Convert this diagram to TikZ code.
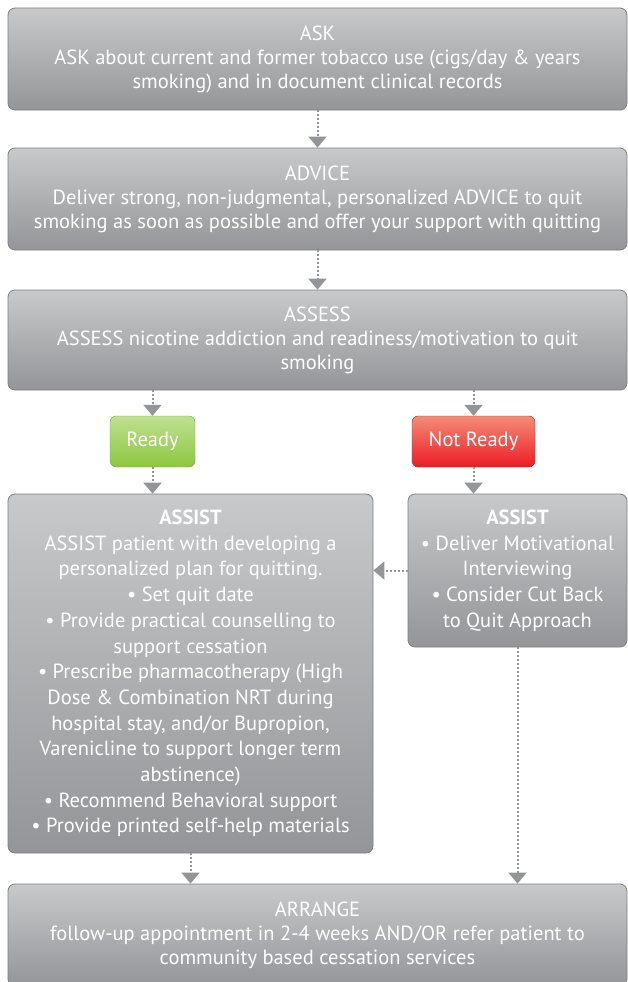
\documentclass[tikz,border=0pt]{standalone}
\usepackage{fontspec}
\setmainfont{PT Sans}
\usepackage{tikz}
\usetikzlibrary{arrows.meta}

\definecolor{boxgray}{RGB}{147,149,152}
\definecolor{boxlight}{RGB}{200,201,203}
\definecolor{readygreen}{RGB}{141,198,63}
\definecolor{readylight}{RGB}{190,225,145}
\definecolor{notred}{RGB}{237,28,36}
\definecolor{notlight}{RGB}{244,140,120}

\begin{document}
\begin{tikzpicture}
[
    x = 1pt, y = -1pt,
    stage/.style = {rectangle, rounded corners = 7pt, draw = boxgray!85!black, line width = 0.8pt,
                    top color = boxlight, middle color = boxgray, bottom color = boxgray,
                    text = white, align = center, inner sep = 0pt,
                    font = \fontsize{20.5}{24}\selectfont},
    assist/.style = {stage, font = \fontsize{20.5}{25.7}\selectfont},
    answer/.style = {rectangle, rounded corners = 6pt, minimum height = 51pt, inner sep = 0pt,
                     text = white, font = \fontsize{20.5}{22}\selectfont},
    flow/.style = {boxgray, line width = 2pt, dash pattern = on 2pt off 2pt,
                   -{Triangle[width = 18pt, length = 11pt]}},
]
\useasboundingbox (0,0) rectangle (628,982);

% main steps
\node[stage, minimum width = 619pt, minimum height = 102pt] (ask) at (317.5,59)
    {ASK\\ASK about current and former tobacco use (cigs/day \& years\\smoking) and in document clinical records};
\node[stage, minimum width = 619pt, minimum height = 102pt] (advice) at (317.5,199)
    {ADVICE\\Deliver strong, non-judgmental, personalized ADVICE to quit\\smoking as soon as possible and offer your support with quitting};
\node[stage, minimum width = 619pt, minimum height = 100pt] (assess) at (317.5,340)
    {ASSESS\\ASSESS nicotine addiction and readiness/motivation to quit\\smoking};

% readiness
\node[answer, minimum width = 85pt, top color = readylight, middle color = readygreen,
      bottom color = readygreen, draw = readygreen!85!black] (ready) at (152.5,441.5) {Ready};
\node[answer, minimum width = 123pt, top color = notlight, middle color = notred,
      bottom color = notred, draw = notred!85!black] (notready) at (473.5,441.5) {Not Ready};

% assist
\node[assist, minimum width = 365pt, minimum height = 359pt] (assistl) at (190.5,673.5)
    {\textbf{ASSIST}\\ASSIST patient with developing a\\personalized plan for quitting.\\
     • Set quit date\\• Provide practical counselling to\\support cessation\\
     • Prescribe pharmacotherapy (High\\Dose \& Combination NRT during\\
     hospital stay, and/or Bupropion,\\Varenicline to support longer term\\abstinence)\\
     • Recommend Behavioral support\\• Provide printed self-help materials};
\node[assist, minimum width = 219pt, minimum height = 153pt] (assistr) at (517.5,570.5)
    {\textbf{ASSIST}\\• Deliver Motivational\\Interviewing\\• Consider Cut Back\\to Quit Approach};

% arrange
\node[stage, minimum width = 619pt, minimum height = 102pt] (arrange) at (317.5,935)
    {ARRANGE\\follow-up appointment in 2-4 weeks AND/OR refer patient to\\community based cessation services};

% connectors
\draw[flow] (ask.south) -- (advice.north);
\draw[flow] (advice.south) -- (assess.north);
\draw[flow] (assess.south -| ready.north) -- (ready.north);
\draw[flow] (assess.south -| notready.north) -- (notready.north);
\draw[flow] (ready.south) -- (ready.south |- assistl.north);
\draw[flow] (notready.south) -- (notready.south |- assistr.north);
\draw[flow] (assistr.west) -- (assistr.west -| assistl.east);
\draw[flow] (assistl.south) -- (assistl.south |- arrange.north);
\draw[flow] (assistr.south) -- (assistr.south |- arrange.north);
\end{tikzpicture}
\end{document}
